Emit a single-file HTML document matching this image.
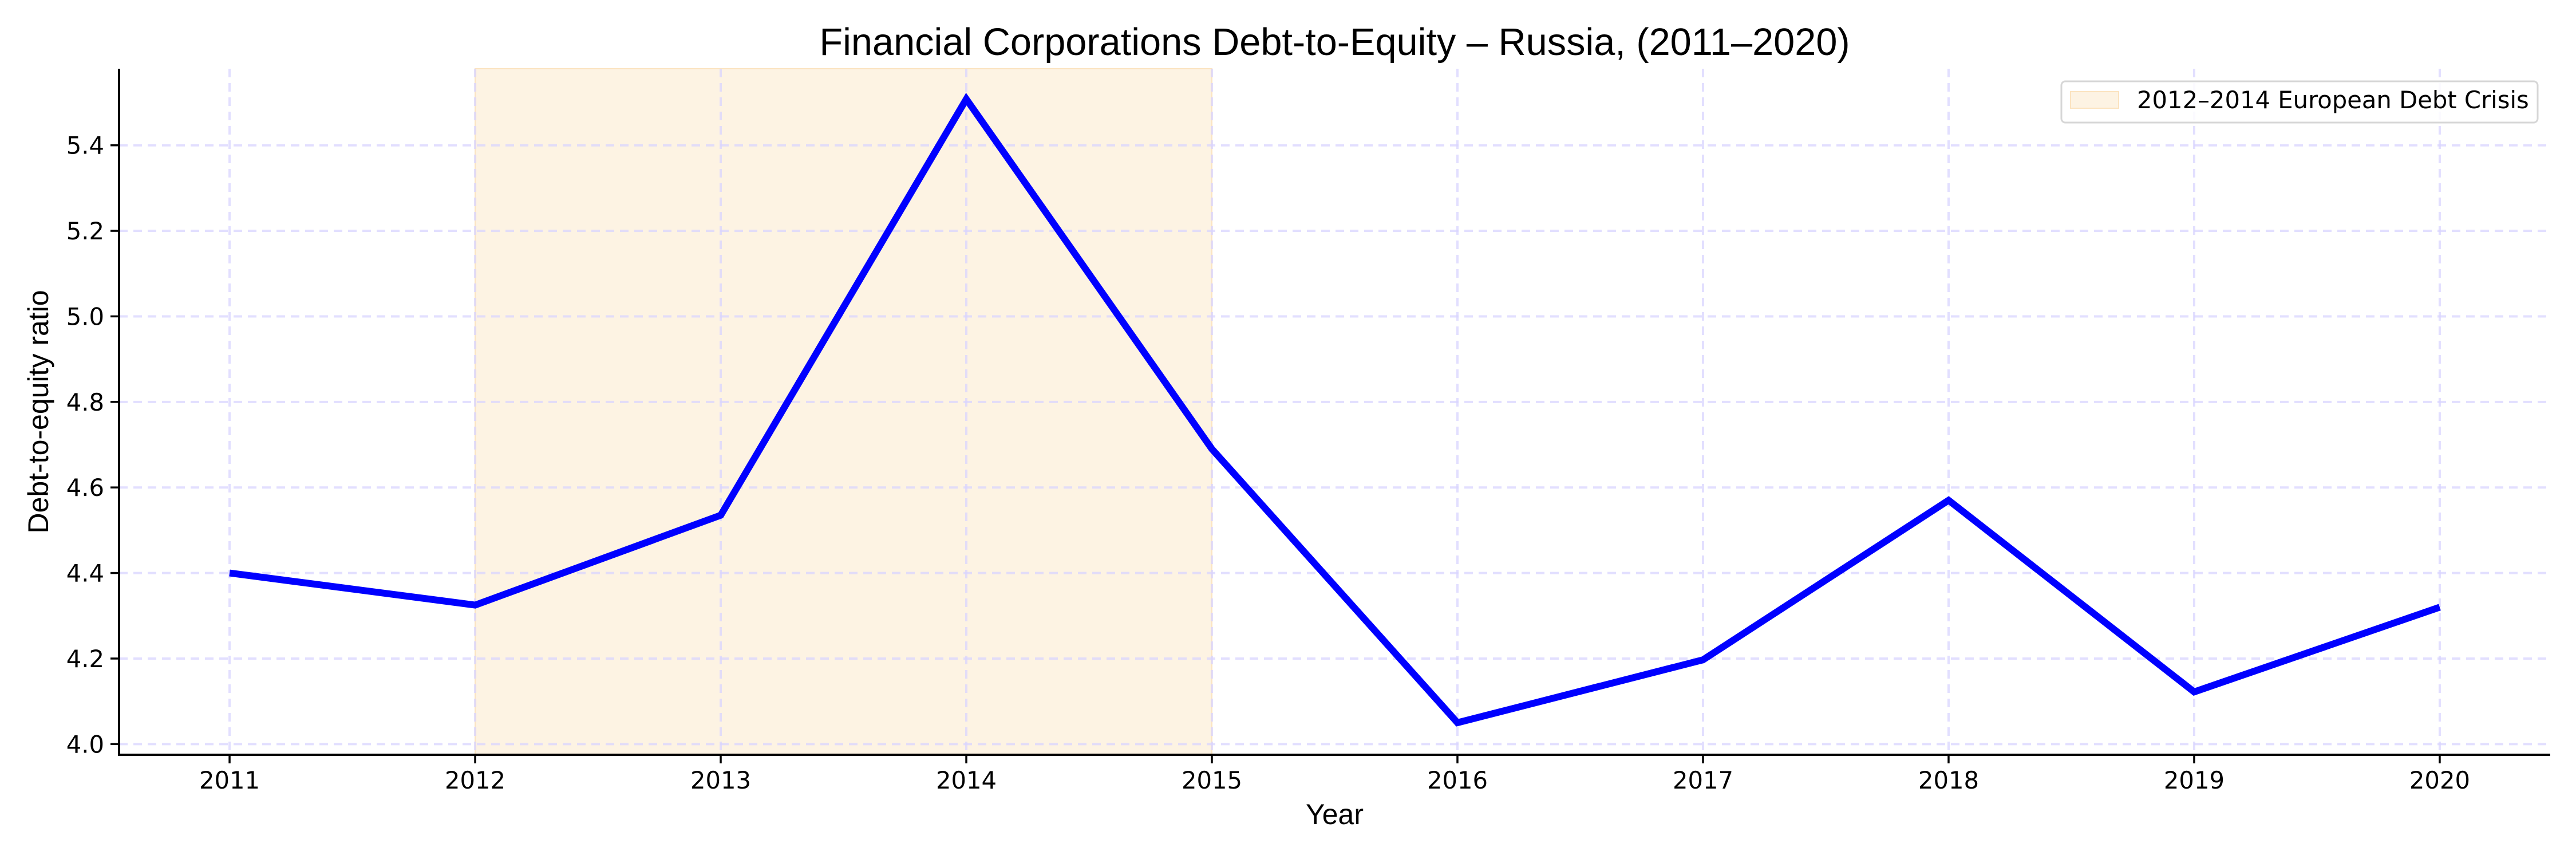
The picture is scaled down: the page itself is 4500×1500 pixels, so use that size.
<!DOCTYPE html>
<html><head><meta charset="utf-8"><style>
html,body{margin:0;padding:0;background:#fff;}
svg{display:block;}
</style></head><body>
<svg id="chart" width="4500" height="1500" xmlns="http://www.w3.org/2000/svg">
<rect width="4500" height="1500" fill="#fff"/>
<g id="plot"></g>
</svg>
<script>
const years = [2011,2012,2013,2014,2015,2016,2017,2018,2019,2020];
const ratios = [4.40,4.325,4.535,5.508,4.69,4.05,4.197,4.57,4.122,4.32];
const yTicks = [4.0,4.2,4.4,4.6,4.8,5.0,5.2,5.4];
const yTickLabels = ["4.0","4.2","4.4","4.6","4.8","5.0","5.2","5.4"];
const shadeRange = [2012,2015];

const L=208,R=4455,T=120,B=1318;
const xMin=2010.55,xMax=2020.45,yMin=3.975,yMax=5.579;
const X=v=>L+(v-xMin)/(xMax-xMin)*(R-L);
const Y=v=>B-(v-yMin)/(yMax-yMin)*(B-T);
const NS='http://www.w3.org/2000/svg';
const g=document.getElementById('plot');
function mk(tag,attrs,parent){const e=document.createElementNS(NS,tag);for(const k in attrs)e.setAttribute(k,attrs[k]);(parent||g).appendChild(e);return e;}
const font='"DejaVu Sans", "Liberation Sans", sans-serif';

// shaded span
let sh=mk('rect',{x:X(shadeRange[0]),y:T,width:X(shadeRange[1])-X(shadeRange[0]),height:B-T,fill:'#fdf3e3',stroke:'#fbe3c0','stroke-width':2});



// grid
yTicks.forEach(v=>{
  let l=mk('line',{x1:L,x2:R,y1:Y(v),y2:Y(v),stroke:'#d8d4ff','stroke-opacity':0.75,'stroke-width':4,'stroke-dasharray':'15,10'});
  
  
});
years.forEach(v=>{
  let l=mk('line',{x1:X(v),x2:X(v),y1:T,y2:B,stroke:'#d8d4ff','stroke-opacity':0.75,'stroke-width':4,'stroke-dasharray':'15,10'});
  
  
});

// line
let pts=years.map((y,i)=>X(y)+','+Y(ratios[i])).join(' ');
let pl=mk('polyline',{points:pts,fill:'none',stroke:'#0000ff','stroke-width':12,'stroke-linejoin':'miter'});



// axes
let ax=mk('line',{x1:L,x2:L,y1:T,y2:B+2,stroke:'#000','stroke-width':4});


let bx=mk('line',{x1:L-2,x2:R,y1:B,y2:B,stroke:'#000','stroke-width':4});



years.forEach(v=>{
  let t=mk('line',{x1:X(v),x2:X(v),y1:B,y2:B+15,stroke:'#000','stroke-width':3.5});
  
  
  let tx=mk('text',{x:X(v),y:1377,'text-anchor':'middle','font-size':41.7,'font-family':font,fill:'#000'});
  tx.textContent=String(v);
  
  
});
yTicks.forEach((v,i)=>{
  let t=mk('line',{x1:L-15,x2:L,y1:Y(v),y2:Y(v),stroke:'#000','stroke-width':3.5});
  
  
  let tx=mk('text',{x:L-26,y:Y(v)+15,'text-anchor':'end','font-size':41.7,'font-family':font,fill:'#000'});
  tx.textContent=yTickLabels[i];
  
  
});

// titles
let ti=mk('text',{x:(L+R)/2,y:96,'text-anchor':'middle','font-size':66.7,'font-family':'"Liberation Sans", sans-serif',fill:'#000'});
ti.textContent='Financial Corporations Debt-to-Equity \u2013 Russia, (2011\u20132020)';


let xl=mk('text',{x:(L+R)/2,y:1439,'text-anchor':'middle','font-size':50,'font-family':'"Liberation Sans", sans-serif',fill:'#000'});
xl.textContent='Year';


let yl=mk('text',{x:0,y:0,'text-anchor':'middle','font-size':50,'font-family':'"Liberation Sans", sans-serif',fill:'#000',transform:'translate(84,'+((T+B)/2)+') rotate(-90)'});
yl.textContent='Debt-to-equity ratio';



// legend
let lg=mk('g',{});


let lb=mk('rect',{x:3601,y:142,width:832,height:72,rx:7,fill:'#fff','fill-opacity':0.85,stroke:'#d6d6d6','stroke-width':3},lg);


let ls=mk('rect',{x:3617,y:160,width:84,height:29,fill:'#fdf3e3',stroke:'#fbe3c0','stroke-width':2},lg);


let lt=mk('text',{x:3733,y:189,'font-size':41.7,'font-family':font,fill:'#000'},lg);
lt.textContent='2012\u20132014 European Debt Crisis';


</script>
</body></html>
